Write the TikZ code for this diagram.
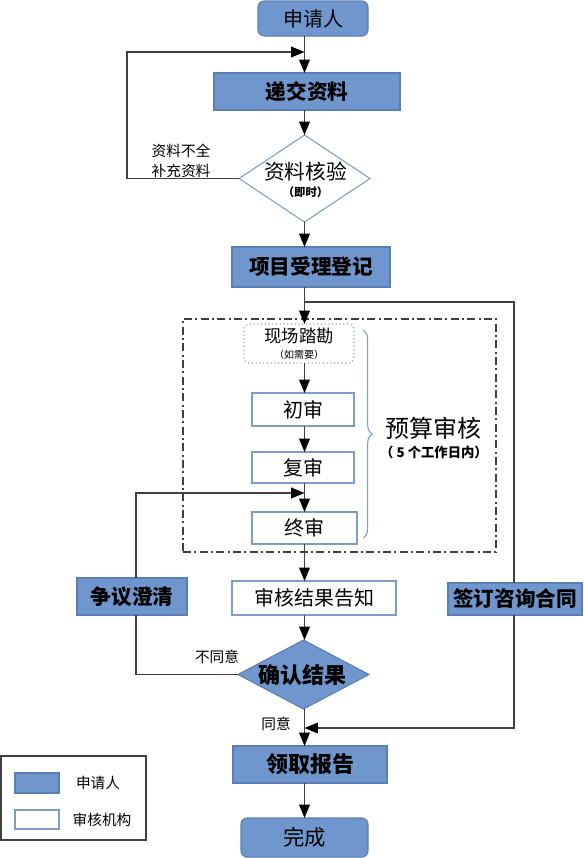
\documentclass[tikz,border=0pt]{standalone}
\usepackage{fontspec}
\setmainfont{Noto Sans CJK SC}
\usetikzlibrary{arrows.meta,shapes.geometric,decorations.pathreplacing,calc}
\definecolor{bfill}{HTML}{6F97CD}
\definecolor{bdraw}{HTML}{5A7FB5}
\definecolor{wdraw}{HTML}{7F9DC4}
\definecolor{lne}{HTML}{3F3F3F}
\begin{document}
\begin{tikzpicture}[x=0.75pt,y=-0.75pt,
  every node/.style={inner sep=0pt, outer sep=0pt},
  wh/.style 2 args={minimum width=#1, minimum height=#2},
  bluebox/.style={draw=bdraw, fill=bfill, line width=0.8pt},
  whitebox/.style={draw=wdraw, fill=white, line width=0.8pt},
  roundbox/.style={bluebox, rounded corners=4.5pt},
  bigdiam/.style={shape=diamond, line width=0.8pt},
  conn/.style={draw=lne, line width=1pt},
  arr/.style={conn, -{Triangle[length=10pt,width=8pt,black]}},
  lbl/.style={font=\fontsize{11pt}{12pt}\selectfont, text=black},
  regtxt/.style={font=\fontsize{15pt}{17pt}\selectfont},
  boldtxt/.style={font=\fontsize{15.5pt}{18pt}\selectfont\bfseries}
]
\useasboundingbox (0,0) rectangle (583,858);
\coordinate (m) at (304.5,0);

% main nodes
\node[roundbox, wh={82.5pt}{26.25pt}, regtxt] (sqr) at (313,18.5) {申请人};
\node[bluebox, wh={139.5pt}{27.75pt}, boldtxt] (dj) at (307,91.5) {递交资料};
\node[bigdiam, draw=wdraw, fill=white, wh={98.25pt}{65.25pt}] (d1) at (304.5,178.5) {};
\node[align=center] (d1t) at (305.5,180) {{\fontsize{15.5pt}{18pt}\selectfont 资料核验}\\[1pt]{\fontsize{8.5pt}{9pt}\selectfont\bfseries （即时）}};
\node[bluebox, wh={118.5pt}{30pt}, boldtxt] (xm) at (311,267) {项目受理登记};

\node[draw=wdraw, dotted, line width=0.8pt, rounded corners=4.5pt, fill=white, wh={82.5pt}{29.25pt}, align=center] (xc) at (299,343.5) {{\fontsize{13pt}{15pt}\selectfont 现场踏勘}\\[0pt]{\fontsize{7.5pt}{9pt}\selectfont （如需要）}};
\node[whitebox, wh={76.5pt}{24.75pt}, regtxt] (cs) at (303,409.5) {初审};
\node[whitebox, wh={76.5pt}{23.25pt}, regtxt] (fs) at (303,467.5) {复审};
\node[whitebox, wh={78.75pt}{24pt}, regtxt] (zs) at (304.5,528) {终审};

\node[draw=lne, line width=0.9pt, dash pattern=on 6pt off 2.5pt on 1.5pt off 2.5pt, wh={234.75pt}{174.75pt}] (frame) at (339.5,435.5) {};
\draw[decorate, decoration={brace, amplitude=7pt}, wdraw, line width=0.8pt] (363,330) -- (363,538);
\node[font=\fontsize{18pt}{20pt}\selectfont] (ys) at (433,428) {预算审核};
\node[font=\fontsize{10pt}{12pt}\selectfont\bfseries] (ysd) at (434,452) {（ 5 个工作日内）};

\node[whitebox, wh={123pt}{25.5pt}, regtxt] (sh) at (314,598) {审核结果告知};
\node[bluebox, wh={82.5pt}{27.75pt}, boldtxt] (zy) at (132,596.5) {争议澄清};
\node[bluebox, wh={100.5pt}{24pt}, boldtxt] (qd) at (515,599) {签订咨询合同};
\node[bigdiam, bluebox, wh={98.25pt}{51.75pt}] (d2) at (303.5,674.5) {};
\node[font=\fontsize{16.5pt}{18pt}\selectfont\bfseries] (d2t) at (302.5,675) {确认结果};
\node[bluebox, wh={115.5pt}{27.75pt}, font=\fontsize{16.5pt}{18pt}\selectfont\bfseries] (lq) at (310,764.5) {领取报告};
\node[roundbox, wh={95.25pt}{29.25pt}, font=\fontsize{16pt}{18pt}\selectfont] (wc) at (304.5,837.5) {完成};

% legend
\node[draw=lne, line width=0.9pt, wh={108.75pt}{63pt}] (lg) at (73.5,798) {};
\node[bluebox, wh={33pt}{15pt}] (lgb) at (37,783) {};
\node[whitebox, wh={33pt}{14.25pt}] (lgw) at (37,819.5) {};
\node[lbl] (lgbt) at (98,783) {申请人};
\node[lbl] (lgwt) at (102,820) {审核机构};

% connectors
\draw[arr] (sqr.south -| m) -- (dj.north -| m);
\draw[arr] (dj.south -| m) -- (d1.north);
\coordinate (fb1) at (127,178.5);
\coordinate (fb2) at (127,52);
\coordinate (fb3) at (304.5,52);
\draw[arr] (d1.west) -- (fb1) -- (fb2) -- (fb3);
\node[lbl] (t1) at (181,151) {资料不全};
\node[lbl] (t2) at (181,171) {补充资料};
\draw[arr] (d1.south) -- (xm.north -| m);
\draw[arr] (xm.south -| m) -- (xc.north -| m);
\coordinate (br0) at (304.5,302);
\coordinate (br1) at (514,302);
\coordinate (br2) at (514,728);
\coordinate (br3) at (304.5,728);
\draw[conn] (br0) -- (br1) -- (qd.north -| br1);
\draw[arr] (qd.south -| br1) -- (br2) -- (br3);
\draw[arr] (xc.south -| m) -- (cs.north -| m);
\draw[arr] (cs.south -| m) -- (fs.north -| m);
\draw[arr] (fs.south -| m) -- (zs.north -| m);
\draw[arr] (zs.south -| m) -- (sh.north -| m);
\draw[arr] (sh.south -| m) -- (d2.north -| m);
\coordinate (ng1) at (136,674.5);
\coordinate (ng2) at (136,493);
\coordinate (ng3) at (304.5,493);
\draw[conn] (d2.west) -- (ng1) -- (zy.south -| ng1);
\draw[arr] (zy.north -| ng1) -- (ng2) -- (ng3);
\node[lbl] (t3) at (217,657) {不同意};
\draw[arr] (d2.south -| m) -- (lq.north -| m);
\node[lbl] (t4) at (276,724) {同意};
\draw[arr] (lq.south -| m) -- (wc.north -| m);
\end{tikzpicture}
\end{document}
